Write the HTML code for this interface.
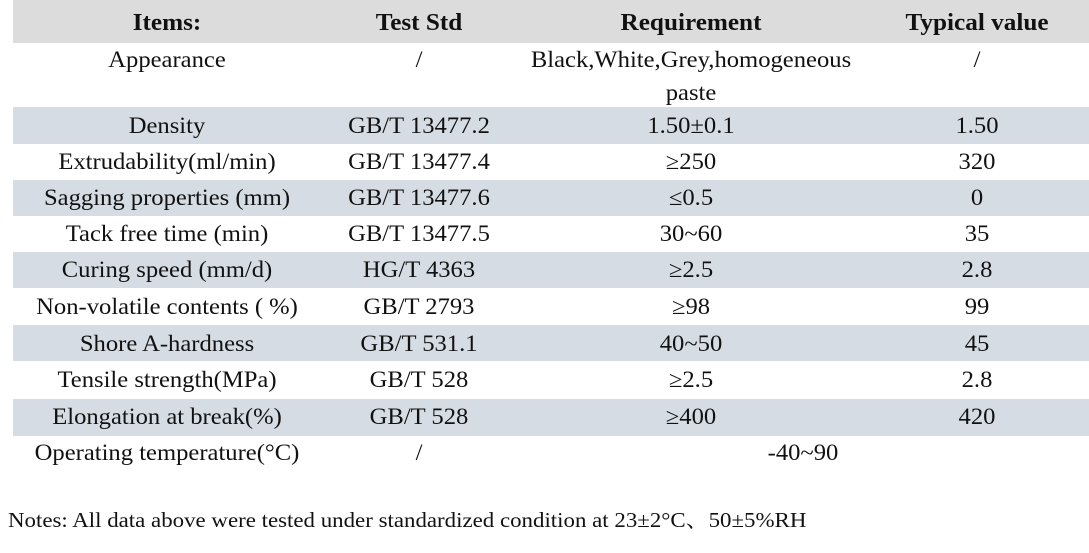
<!DOCTYPE html>
<html><head><meta charset="utf-8"><style>
body{margin:0;width:1089px;height:553px;background:#fff;font-family:"Liberation Serif","Noto Serif CJK SC",serif;color:#111;position:relative;overflow:hidden}
.band{position:absolute;left:13px;right:0}
.t{position:absolute;font-size:23px;transform:translateX(-50%) scaleX(1.07);white-space:nowrap;line-height:1}
.h{font-weight:bold;font-size:24px;transform:translateX(-50%) scaleX(1.05)}
</style></head><body>
<div class="band" style="top:0;height:43px;background:#dcdcdc"></div>
<div class="band" style="top:107px;height:37px;background:#d6dce4"></div>
<div class="band" style="top:180px;height:36px;background:#d6dce4"></div>
<div class="band" style="top:252px;height:36px;background:#d6dce4"></div>
<div class="band" style="top:325px;height:36px;background:#d6dce4"></div>
<div class="band" style="top:399px;height:37px;background:#d6dce4"></div>

<div class="t h" style="left:167px;top:11px">Items:</div>
<div class="t h" style="left:419px;top:11px">Test Std</div>
<div class="t h" style="left:691px;top:11px">Requirement</div>
<div class="t h" style="left:977px;top:11px">Typical value</div>

<div class="t" style="left:167px;top:48px">Appearance</div>
<div class="t" style="left:419px;top:48px">/</div>
<div class="t" style="left:691px;top:48px">Black,White,Grey,homogeneous</div>
<div class="t" style="left:691px;top:81px">paste</div>
<div class="t" style="left:977px;top:48px">/</div>

<div class="t" style="left:167px;top:114px">Density</div>
<div class="t" style="left:419px;top:114px">GB/T 13477.2</div>
<div class="t" style="left:691px;top:114px">1.50±0.1</div>
<div class="t" style="left:977px;top:114px">1.50</div>

<div class="t" style="left:167px;top:150px">Extrudability(ml/min)</div>
<div class="t" style="left:419px;top:150px">GB/T 13477.4</div>
<div class="t" style="left:691px;top:150px">≥250</div>
<div class="t" style="left:977px;top:150px">320</div>

<div class="t" style="left:167px;top:186px">Sagging properties (mm)</div>
<div class="t" style="left:419px;top:186px">GB/T 13477.6</div>
<div class="t" style="left:691px;top:186px">≤0.5</div>
<div class="t" style="left:977px;top:186px">0</div>

<div class="t" style="left:167px;top:222px">Tack free time (min)</div>
<div class="t" style="left:419px;top:222px">GB/T 13477.5</div>
<div class="t" style="left:691px;top:222px">30~60</div>
<div class="t" style="left:977px;top:222px">35</div>

<div class="t" style="left:167px;top:258px">Curing speed (mm/d)</div>
<div class="t" style="left:419px;top:258px">HG/T 4363</div>
<div class="t" style="left:691px;top:258px">≥2.5</div>
<div class="t" style="left:977px;top:258px">2.8</div>

<div class="t" style="left:167px;top:295px">Non-volatile contents ( %)</div>
<div class="t" style="left:419px;top:295px">GB/T 2793</div>
<div class="t" style="left:691px;top:295px">≥98</div>
<div class="t" style="left:977px;top:295px">99</div>

<div class="t" style="left:167px;top:332px">Shore A-hardness</div>
<div class="t" style="left:419px;top:332px">GB/T 531.1</div>
<div class="t" style="left:691px;top:332px">40~50</div>
<div class="t" style="left:977px;top:332px">45</div>

<div class="t" style="left:167px;top:368px">Tensile strength(MPa)</div>
<div class="t" style="left:419px;top:368px">GB/T 528</div>
<div class="t" style="left:691px;top:368px">≥2.5</div>
<div class="t" style="left:977px;top:368px">2.8</div>

<div class="t" style="left:167px;top:405px">Elongation at break(%)</div>
<div class="t" style="left:419px;top:405px">GB/T 528</div>
<div class="t" style="left:691px;top:405px">≥400</div>
<div class="t" style="left:977px;top:405px">420</div>

<div class="t" style="left:167px;top:441px">Operating temperature(°C)</div>
<div class="t" style="left:419px;top:441px">/</div>
<div class="t" style="left:803px;top:441px">-40~90</div>

<div style="position:absolute;left:8px;top:510px;font-size:21px;white-space:nowrap;line-height:1;transform-origin:0 0;transform:scaleX(1.09)">Notes: All data above were tested under standardized condition at 23±2°C、50±5%RH</div>
</body></html>
